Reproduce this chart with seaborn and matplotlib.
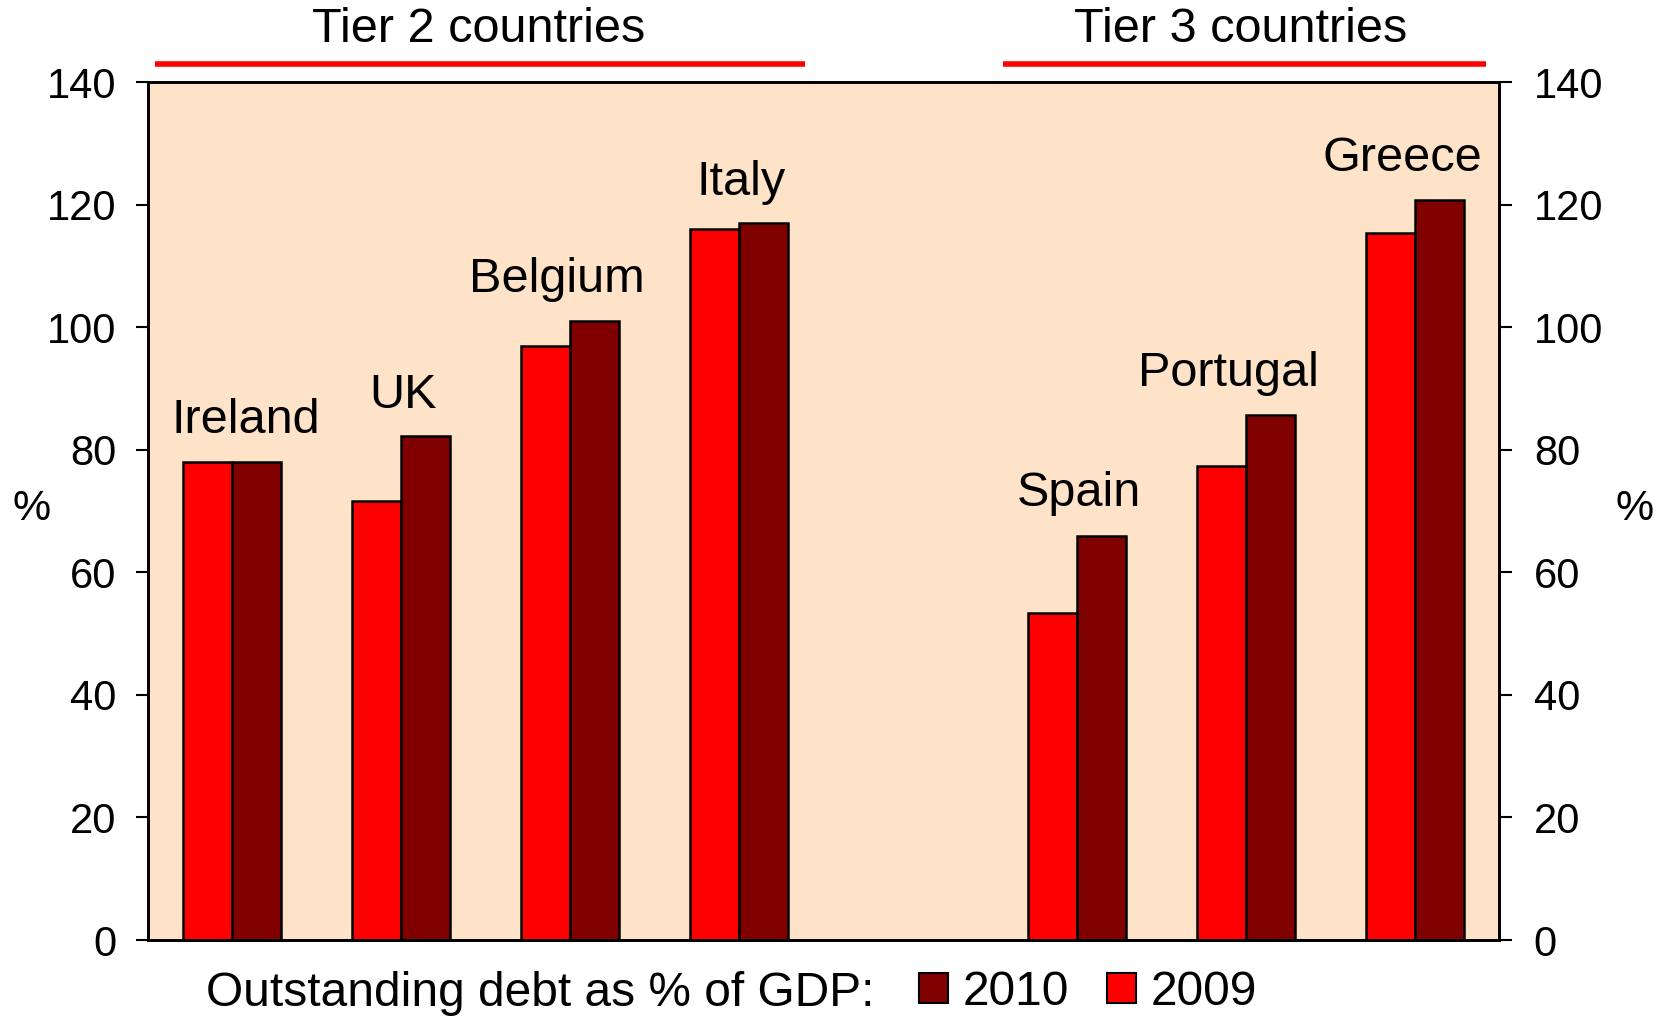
import numpy as np
import pandas as pd
import matplotlib
matplotlib.use('Agg')
import matplotlib.pyplot as plt
from matplotlib.patches import Patch
import seaborn as sns

# data (debt as % of GDP)
countries = ['Ireland', 'UK', 'Belgium', 'Italy', 'Spain', 'Portugal', 'Greece']
debt_2009 = [78.0, 71.7, 97.0, 116.0, 53.4, 77.3, 115.3]
debt_2010 = [78.0, 82.3, 101.0, 117.0, 66.0, 85.6, 120.8]
years = ['2009', '2010']
# slot order, with one blank slot between the two tiers
slot_order = ['Ireland', 'UK', 'Belgium', 'Italy', ' ', 'Spain', 'Portugal', 'Greece']
tick_values = [0, 20, 40, 60, 80, 100, 120, 140]

colors = {'2009': '#FF0000', '2010': '#800000'}
bg_color = '#FFE3C8'

sns.set_theme(style='ticks')
plt.rcParams['font.family'] = ['Liberation Sans', 'DejaVu Sans']
plt.rcParams['text.color'] = 'black'
plt.rcParams['axes.labelcolor'] = 'black'
plt.rcParams['ytick.color'] = 'black'
plt.rcParams['xtick.color'] = 'black'

df = pd.DataFrame({
    'country': countries * 2,
    'year': ['2009'] * len(countries) + ['2010'] * len(countries),
    'debt': debt_2009 + debt_2010,
})

fig = plt.figure(figsize=(16.61, 10.23), dpi=100)
ax = fig.add_axes([0.0891, 0.0811, 0.8134, 0.8387])
ax.set_facecolor(bg_color)

sns.barplot(data=df, x='country', y='debt', hue='year', order=slot_order,
            hue_order=years, palette=colors, width=0.58, saturation=1,
            edgecolor='black', linewidth=1.8, ax=ax)
if ax.get_legend() is not None:
    ax.get_legend().remove()

ax.set_ylim(0, 140)
ax.set_xlim(-0.5, len(slot_order) - 0.5)
ax.set_yticks(tick_values)
ax.set_xticks([])
ax.set_xlabel('')
ax.set_ylabel('%', fontsize=31, rotation=0, ha='center', va='center')
ax.yaxis.set_label_coords(-0.086, 0.502)
ax.tick_params(axis='y', labelsize=30, length=9, width=1.5, direction='out',
               pad=14)
for sp in ax.spines.values():
    sp.set_linewidth(2)
    sp.set_color('black')

ax2 = ax.twinx()
ax2.set_ylim(0, 140)
ax2.set_yticks(tick_values)
ax2.tick_params(axis='y', labelsize=30, length=9, width=1.5, direction='out',
                pad=16)
ax2.set_ylabel('%', fontsize=31, rotation=0, ha='center', va='center')
ax2.yaxis.set_label_coords(1.100, 0.502)
for sp in ax2.spines.values():
    sp.set_linewidth(2)
    sp.set_color('black')

# country labels above the bars
label_pos = {
    'Ireland': (0.08, 82.8), 'UK': (1.01, 86.8), 'Belgium': (1.92, 105.8),
    'Italy': (3.01, 121.5), 'Spain': (5.01, 70.9), 'Portugal': (5.90, 90.4),
    'Greece': (6.93, 125.5),
}
for name, (lx, ly) in label_pos.items():
    ax.text(lx, ly, name, ha='center', va='baseline', fontsize=35)

# tier headings with red underlines
ax.plot([-0.46, 3.39], [142.9, 142.9], color='#FF0000', lw=4, clip_on=False,
        solid_capstyle='butt')
ax.plot([4.56, 7.42], [142.9, 142.9], color='#FF0000', lw=4, clip_on=False,
        solid_capstyle='butt')
ax.text(1.46, 148.6, 'Tier 2 countries', ha='center', va='center', fontsize=35)
ax.text(5.97, 148.6, 'Tier 3 countries', ha='center', va='center', fontsize=35)

# legend along the bottom
fig.text(0.124, 0.029, 'Outstanding debt as % of GDP:', ha='left', va='center',
         fontsize=34.5)
handles = [Patch(facecolor=colors['2010'], edgecolor='black', linewidth=1.5),
           Patch(facecolor=colors['2009'], edgecolor='black', linewidth=1.5)]
fig.legend(handles, ['2010', '2009'], loc='center left',
           bbox_to_anchor=(0.539, 0.030), ncol=2, frameon=False, fontsize=34.5,
           handlelength=0.6, handleheight=0.6, handletextpad=0.3,
           columnspacing=0.8, borderpad=0)

fig.savefig('out.png', dpi=100)
